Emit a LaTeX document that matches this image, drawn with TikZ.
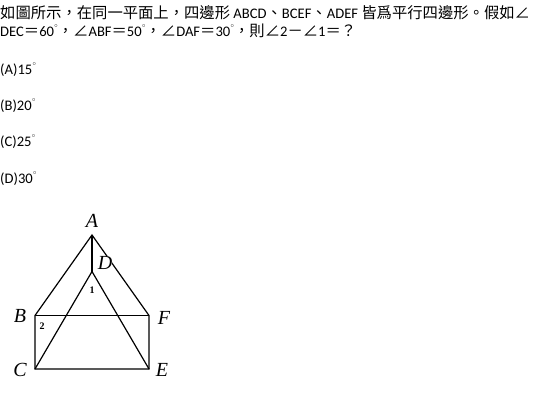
\documentclass[tikz,border=0pt]{standalone}
\usepackage{fontspec}
\setmainfont{Carlito}
\newfontfamily\cjk[Scale=1.05]{Noto Sans CJK TC}
\newfontfamily\geo{Liberation Serif}
\newcommand{\zh}[1]{{\cjk #1}}
\newcommand{\dg}{\raisebox{0.62em}{\fontsize{6}{6}\selectfont$\circ$}}

\begin{document}
\begin{tikzpicture}[x=1pt, y=-1pt,
	txt/.style={anchor=west, inner sep=0pt, font=\fontsize{14.6}{16}\selectfont},
	pt/.style={font=\fontsize{20}{22}\geo\itshape, inner sep=0pt},
	ang/.style={font=\fontsize{10}{12}\geo\bfseries, inner sep=0pt}]
		\useasboundingbox (0, 0) rectangle (550, 412);
		
		\node[txt] (q1) at (0, 13) {\zh{如圖所示，在同一平面上，四邊形} ABCD\zh{、}BCEF\zh{、}ADEF \zh{皆爲平行四邊形。假如∠}};
		\node[txt] (q2) at (0, 31) {DEC\zh{＝}60\dg\zh{，∠}ABF\zh{＝}50\dg\zh{，∠}DAF\zh{＝}30\dg\zh{，則∠}2\zh{－∠}1\zh{＝？}};
		\node[txt] (oa) at (0, 70) {(A)15\dg};
		\node[txt] (ob) at (0, 106) {(B)20\dg};
		\node[txt] (oc) at (0, 142) {(C)25\dg};
		\node[txt] (od) at (0, 179) {(D)30\dg};
		
		\coordinate (A) at (92, 235);
		\coordinate (D) at (92, 271.5);
		\coordinate (B) at (35, 315.5);
		\coordinate (F) at (149, 315.5);
		\coordinate (C) at (35, 369);
		\coordinate (E) at (149, 369);
		
		\path[draw, line width=1.2pt, line join=miter] (B) -- (A) -- (F) -- (E) -- (C) -- cycle;
		\path[draw, line width=1.2pt] (B) -- (F);
		\path[draw, line width=1.2pt] (A) -- (D);
		\path[draw, line width=1.2pt] (C) -- (D) -- (E);
		
		\node[pt] (lA) at (92, 221) {A};
		\node[pt, fill=white] (lD) at (105, 263) {D};
		\node[pt] (lB) at (20, 316) {B};
		\node[pt] (lF) at (164, 318) {F};
		\node[pt] (lC) at (20, 370) {C};
		\node[pt] (lE) at (162, 370) {E};
		\node[ang] (n1) at (92, 290) {1};
		\node[ang] (n2) at (42, 326) {2};
	\end{tikzpicture}
\end{document}
